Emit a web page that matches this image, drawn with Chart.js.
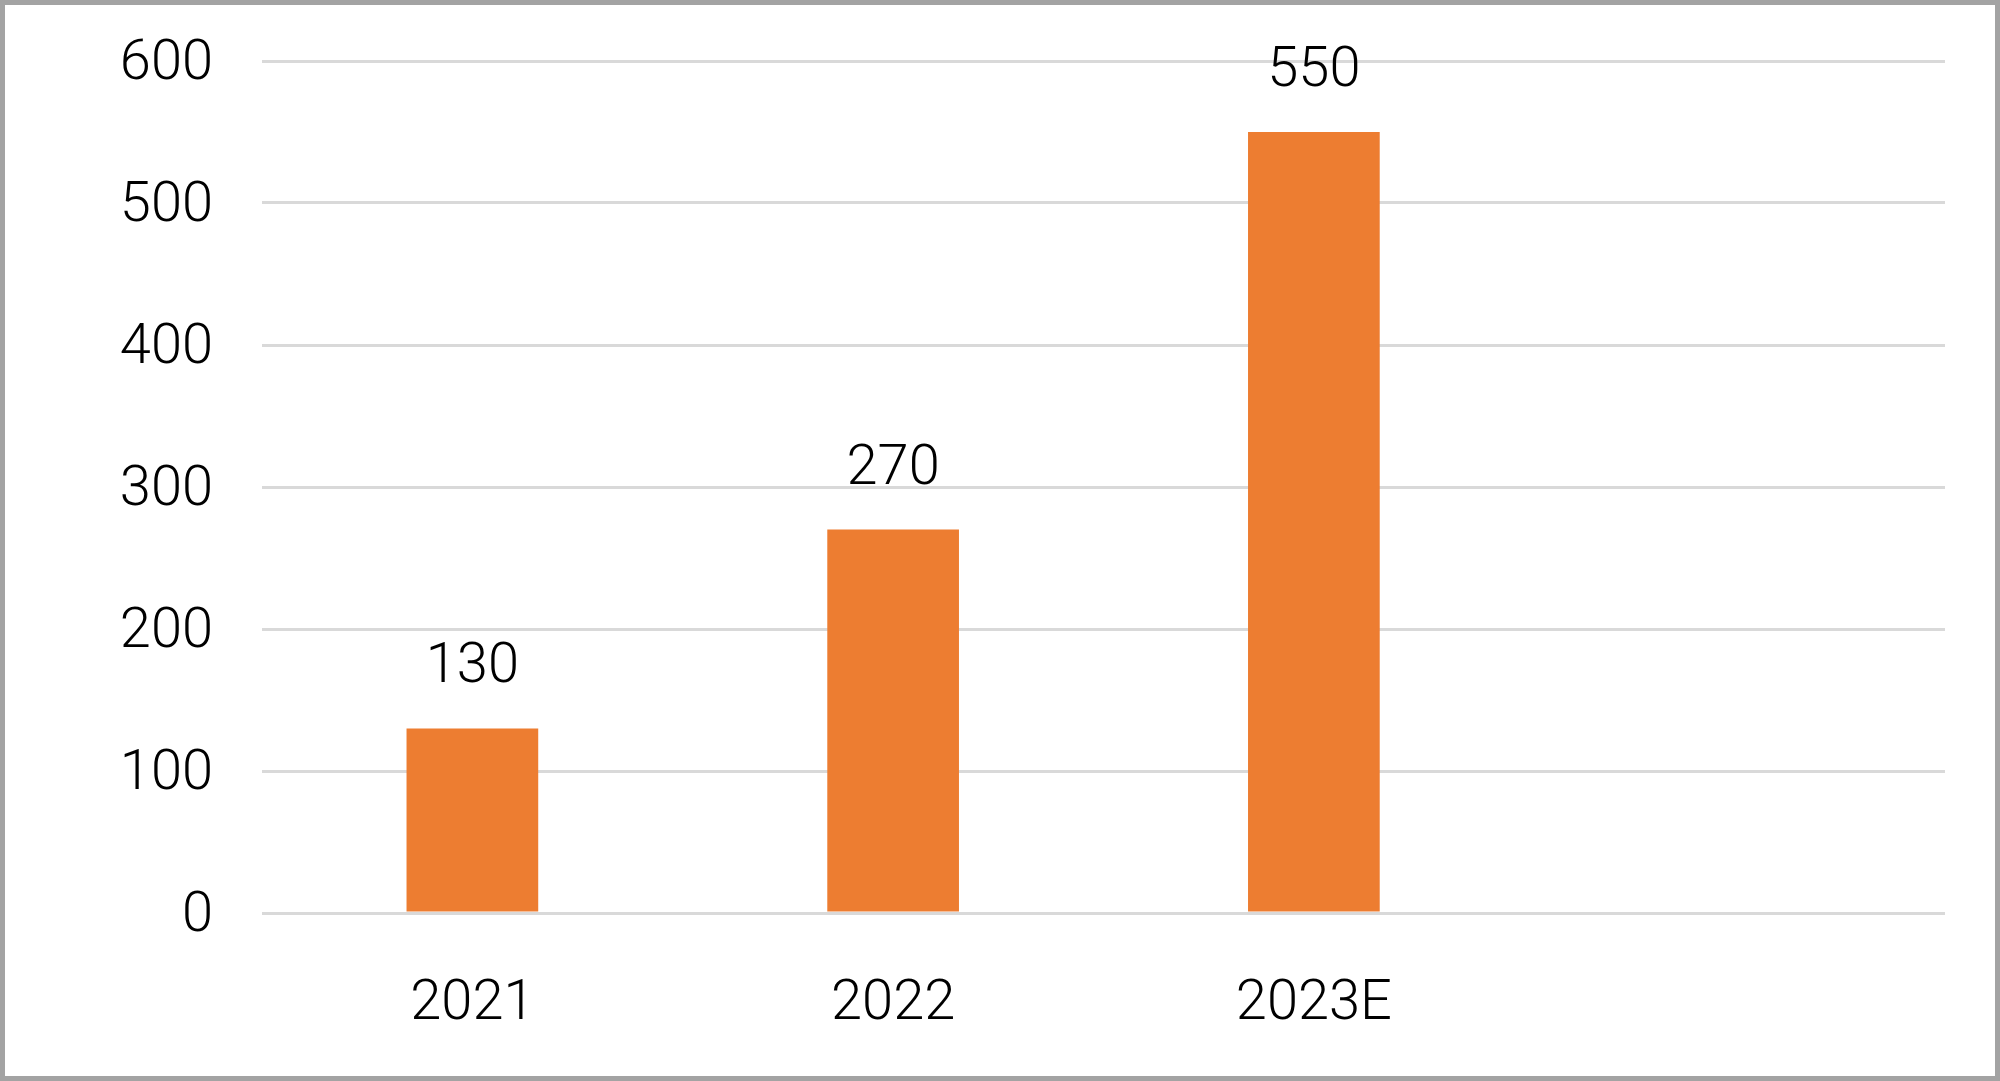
<!DOCTYPE html>
<html>
<head>
<meta charset="utf-8">
<script src="https://cdn.jsdelivr.net/npm/chart.js@4"></script>
<style>
  body { margin: 0; background: #fff; }
  #wrap { position: relative; width: 2000px; height: 1081px; }
  #frame {
    position: absolute; left: 0; top: 0; width: 2000px; height: 1081px;
    box-sizing: border-box; border: 5px solid #a3a3a3; pointer-events: none;
  }
</style>
</head>
<body>
<div id="wrap">
  <canvas id="chart" width="2000" height="1081"></canvas>
  <div id="frame"></div>
</div>
<script>
// chart data
const categories = ["2021", "2022", "2023E", ""];
const values = [130, 270, 550, null];
const yTicks = [0, 100, 200, 300, 400, 500, 600];

const FONT = "Roboto, 'Liberation Sans', sans-serif";

// draws the value above each bar
const barLabels = {
  id: "barLabels",
  afterDatasetsDraw(chart) {
    const ctx = chart.ctx;
    const meta = chart.getDatasetMeta(0);
    ctx.save();
    ctx.font = "300 56px " + FONT;
    ctx.fillStyle = "#000";
    ctx.textAlign = "center";
    ctx.textBaseline = "middle";
    meta.data.forEach((bar, i) => {
      if (values[i] == null) return;
      ctx.fillText(String(values[i]), bar.x, bar.y - 60);
    });
    ctx.restore();
  },
};

new Chart(document.getElementById("chart"), {
  type: "bar",
  data: {
    labels: categories,
    datasets: [
      {
        data: values,
        backgroundColor: "#ED7D31",
        barPercentage: 0.313,
        categoryPercentage: 1,
      },
    ],
  },
  options: {
    responsive: false,
    animation: false,
    layout: { padding: { left: 0, top: 61, right: 55, bottom: 0 } },
    plugins: { legend: { display: false }, tooltip: { enabled: false } },
    scales: {
      x: {
        grid: { display: false, drawTicks: false },
        border: { display: false },
        ticks: {
          color: "#000",
          padding: 58,
          font: { family: FONT, size: 56, weight: 300 },
        },
        afterFit: (s) => { s.height = 168; s.paddingLeft = 0; s.paddingRight = 0; },
      },
      y: {
        min: 0,
        max: 600,
        afterBuildTicks: (s) => { s.ticks = yTicks.map((v) => ({ value: v })); },
        grid: { color: "#d9d9d9", lineWidth: 3, drawTicks: false },
        border: { display: false },
        ticks: {
          color: "#000",
          padding: 49,
          labelOffset: 4,
          font: { family: FONT, size: 56, weight: 300 },
        },
        afterFit: (s) => { s.width = 262; s.paddingTop = 0; s.paddingBottom = 0; },
      },
    },
  },
  plugins: [barLabels],
});
</script>
</body>
</html>
